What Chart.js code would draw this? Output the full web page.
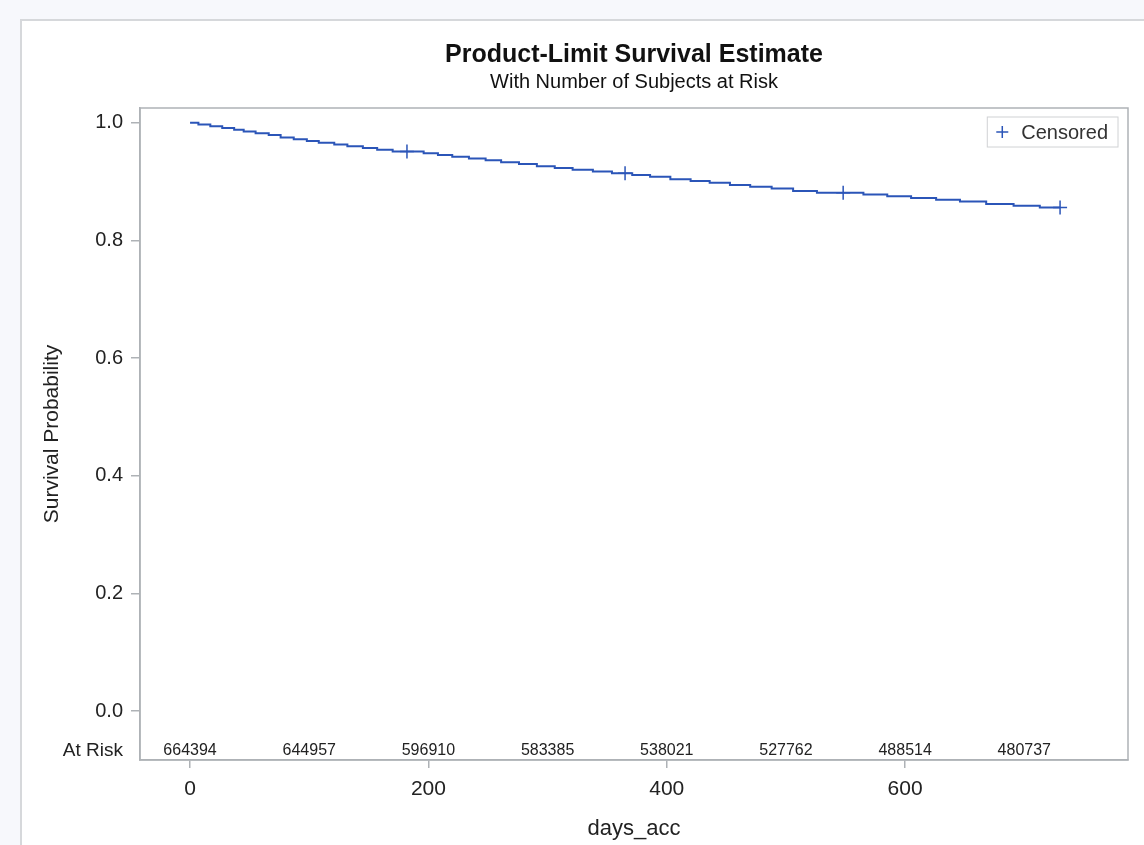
<!DOCTYPE html>
<html>
<head>
<meta charset="utf-8">
<title>Product-Limit Survival Estimate</title>
<script src="https://cdn.jsdelivr.net/npm/chart.js@4.4.1/dist/chart.umd.min.js"></script>
<style>
  html, body { margin: 0; padding: 0; background: #f7f8fc; overflow: hidden; }
  #panel { position: absolute; left: 20px; top: 19px; width: 1140px; height: 840px; background: #fff; border: 2px solid #d6d8db; }
  #wrap { position: absolute; left: 0; top: 0; width: 1144px; height: 845px; }
</style>
</head>
<body>
<div id="panel"></div>
<div id="wrap"><canvas id="km"></canvas></div>
<script>
// Kaplan-Meier steps (day of the drop, survival after it)
const stepDays = [0, 7, 17, 27, 37, 45, 55, 66, 76, 87, 98, 108, 121, 132, 145, 157, 170,
                  196, 208, 220, 234, 248, 261, 276, 291, 306, 321, 338, 354,
                  371, 386, 403, 420, 436, 453, 470, 488, 506, 526,
                  565, 585, 605, 626, 646, 668, 691, 713, 730];
const survival = [1.000, 0.997, 0.994, 0.991, 0.988, 0.985, 0.982, 0.979, 0.975, 0.972, 0.969, 0.966, 0.963, 0.960, 0.957, 0.954, 0.951,
                  0.948, 0.945, 0.942, 0.939, 0.936, 0.933, 0.930, 0.926, 0.923, 0.920, 0.917, 0.914,
                  0.911, 0.908, 0.904, 0.901, 0.898, 0.894, 0.891, 0.888, 0.884, 0.881,
                  0.878, 0.875, 0.872, 0.869, 0.866, 0.862, 0.859, 0.856, 0.856];

const censorDays = [182, 365, 548, 730];
const censorSurv = [0.951, 0.914, 0.881, 0.856];

const atRiskDays = [0, 100, 200, 300, 400, 500, 600, 700];
const atRiskCounts = [664394, 644957, 596910, 583385, 538021, 527762, 488514, 480737];

const xTicks = [0, 200, 400, 600];
const yTicks = [0.0, 0.2, 0.4, 0.6, 0.8, 1.0];

const FONT = "'Liberation Sans', Arial, sans-serif";
const BLUE = '#2b55b8';
const FRAME = '#aeb2b6';
Chart.defaults.font.family = FONT;

// titles, frame, at-risk row and legend box
const sasExtras = {
  id: 'sasExtras',
  afterDraw(chart) {
    const ctx = chart.ctx;
    const a = chart.chartArea;
    const xs = chart.scales.x;
    const cx = (a.left + a.right) / 2;
    ctx.save();

    ctx.strokeStyle = FRAME;
    ctx.lineWidth = 1.5;
    ctx.strokeRect(a.left, a.top, a.right - a.left, a.bottom - a.top);

    ctx.fillStyle = '#111';
    ctx.textAlign = 'center';
    ctx.textBaseline = 'middle';
    ctx.font = 'bold 25px ' + FONT;
    ctx.fillText('Product-Limit Survival Estimate', cx, 55);
    ctx.font = '20px ' + FONT;
    ctx.fillText('With Number of Subjects at Risk', cx, 82);

    ctx.font = '16px ' + FONT;
    ctx.fillStyle = '#222';
    atRiskDays.forEach((d, i) => {
      ctx.fillText(String(atRiskCounts[i]), xs.getPixelForValue(d), a.bottom - 9);
    });
    ctx.textAlign = 'right';
    ctx.font = '19px ' + FONT;
    ctx.fillText('At Risk', a.left - 17, a.bottom - 9);

    const label = chart.data.datasets[1].label;
    ctx.font = '20px ' + FONT;
    const boxR = a.right - 10, boxT = a.top + 9, boxH = 30;
    const boxW = 36 + ctx.measureText(label).width + 8;
    ctx.fillStyle = '#fff';
    ctx.fillRect(boxR - boxW, boxT, boxW, boxH);
    ctx.strokeStyle = '#d0d2d4';
    ctx.lineWidth = 1;
    ctx.strokeRect(boxR - boxW, boxT, boxW, boxH);
    const px = boxR - boxW + 15, py = boxT + boxH / 2;
    ctx.strokeStyle = BLUE;
    ctx.lineWidth = 1.5;
    ctx.beginPath();
    ctx.moveTo(px - 6, py); ctx.lineTo(px + 6, py);
    ctx.moveTo(px, py - 6); ctx.lineTo(px, py + 6);
    ctx.stroke();
    ctx.fillStyle = '#333';
    ctx.textAlign = 'left';
    ctx.fillText(label, boxR - boxW + 34, py + 1);
    ctx.restore();
  }
};

new Chart(document.getElementById('km'), {
  type: 'line',
  data: {
    datasets: [{
      label: 'Survival',
      data: stepDays.map((d, i) => ({ x: d, y: survival[i] })),
      stepped: true,
      borderColor: BLUE,
      borderWidth: 2,
      pointRadius: 0,
      fill: false
    }, {
      label: 'Censored',
      data: censorDays.map((d, i) => ({ x: d, y: censorSurv[i] })),
      showLine: false,
      pointStyle: 'cross',
      pointRadius: 7,
      borderColor: BLUE,
      backgroundColor: BLUE,
      borderWidth: 1.5
    }]
  },
  options: {
    responsive: true,
    maintainAspectRatio: false,
    animation: false,
    layout: { padding: { left: 0, right: 16, top: 108, bottom: 0 } },
    scales: {
      x: {
        type: 'linear',
        min: -42,
        max: 787,
        afterBuildTicks: (s) => { s.ticks = xTicks.map(v => ({ value: v })); },
        afterFit: (s) => { s.height = 85; },
        grid: { drawOnChartArea: false, tickLength: 8, color: FRAME, lineWidth: 1.5 },
        border: { color: FRAME, width: 1.5 },
        ticks: { color: '#222', font: { size: 21 }, padding: 9, maxRotation: 0 },
        title: { display: true, text: 'days_acc', color: '#222', font: { size: 22 }, padding: { top: 0, bottom: 3 } }
      },
      y: {
        min: -0.083,
        max: 1.025,
        afterBuildTicks: (s) => { s.ticks = yTicks.map(v => ({ value: v })); },
        afterFit: (s) => { s.width = 140; },
        grid: { drawOnChartArea: false, tickLength: 9, color: FRAME, lineWidth: 1.5 },
        border: { color: FRAME, width: 1.5 },
        ticks: { color: '#222', font: { size: 20 }, padding: 8, callback: (v) => v.toFixed(1) },
        title: { display: true, text: 'Survival Probability', color: '#222', font: { size: 21 }, padding: { top: 40, bottom: 0 } }
      }
    },
    plugins: {
      legend: { display: false },
      tooltip: { enabled: false }
    }
  },
  plugins: [sasExtras]
});
</script>
</body>
</html>
